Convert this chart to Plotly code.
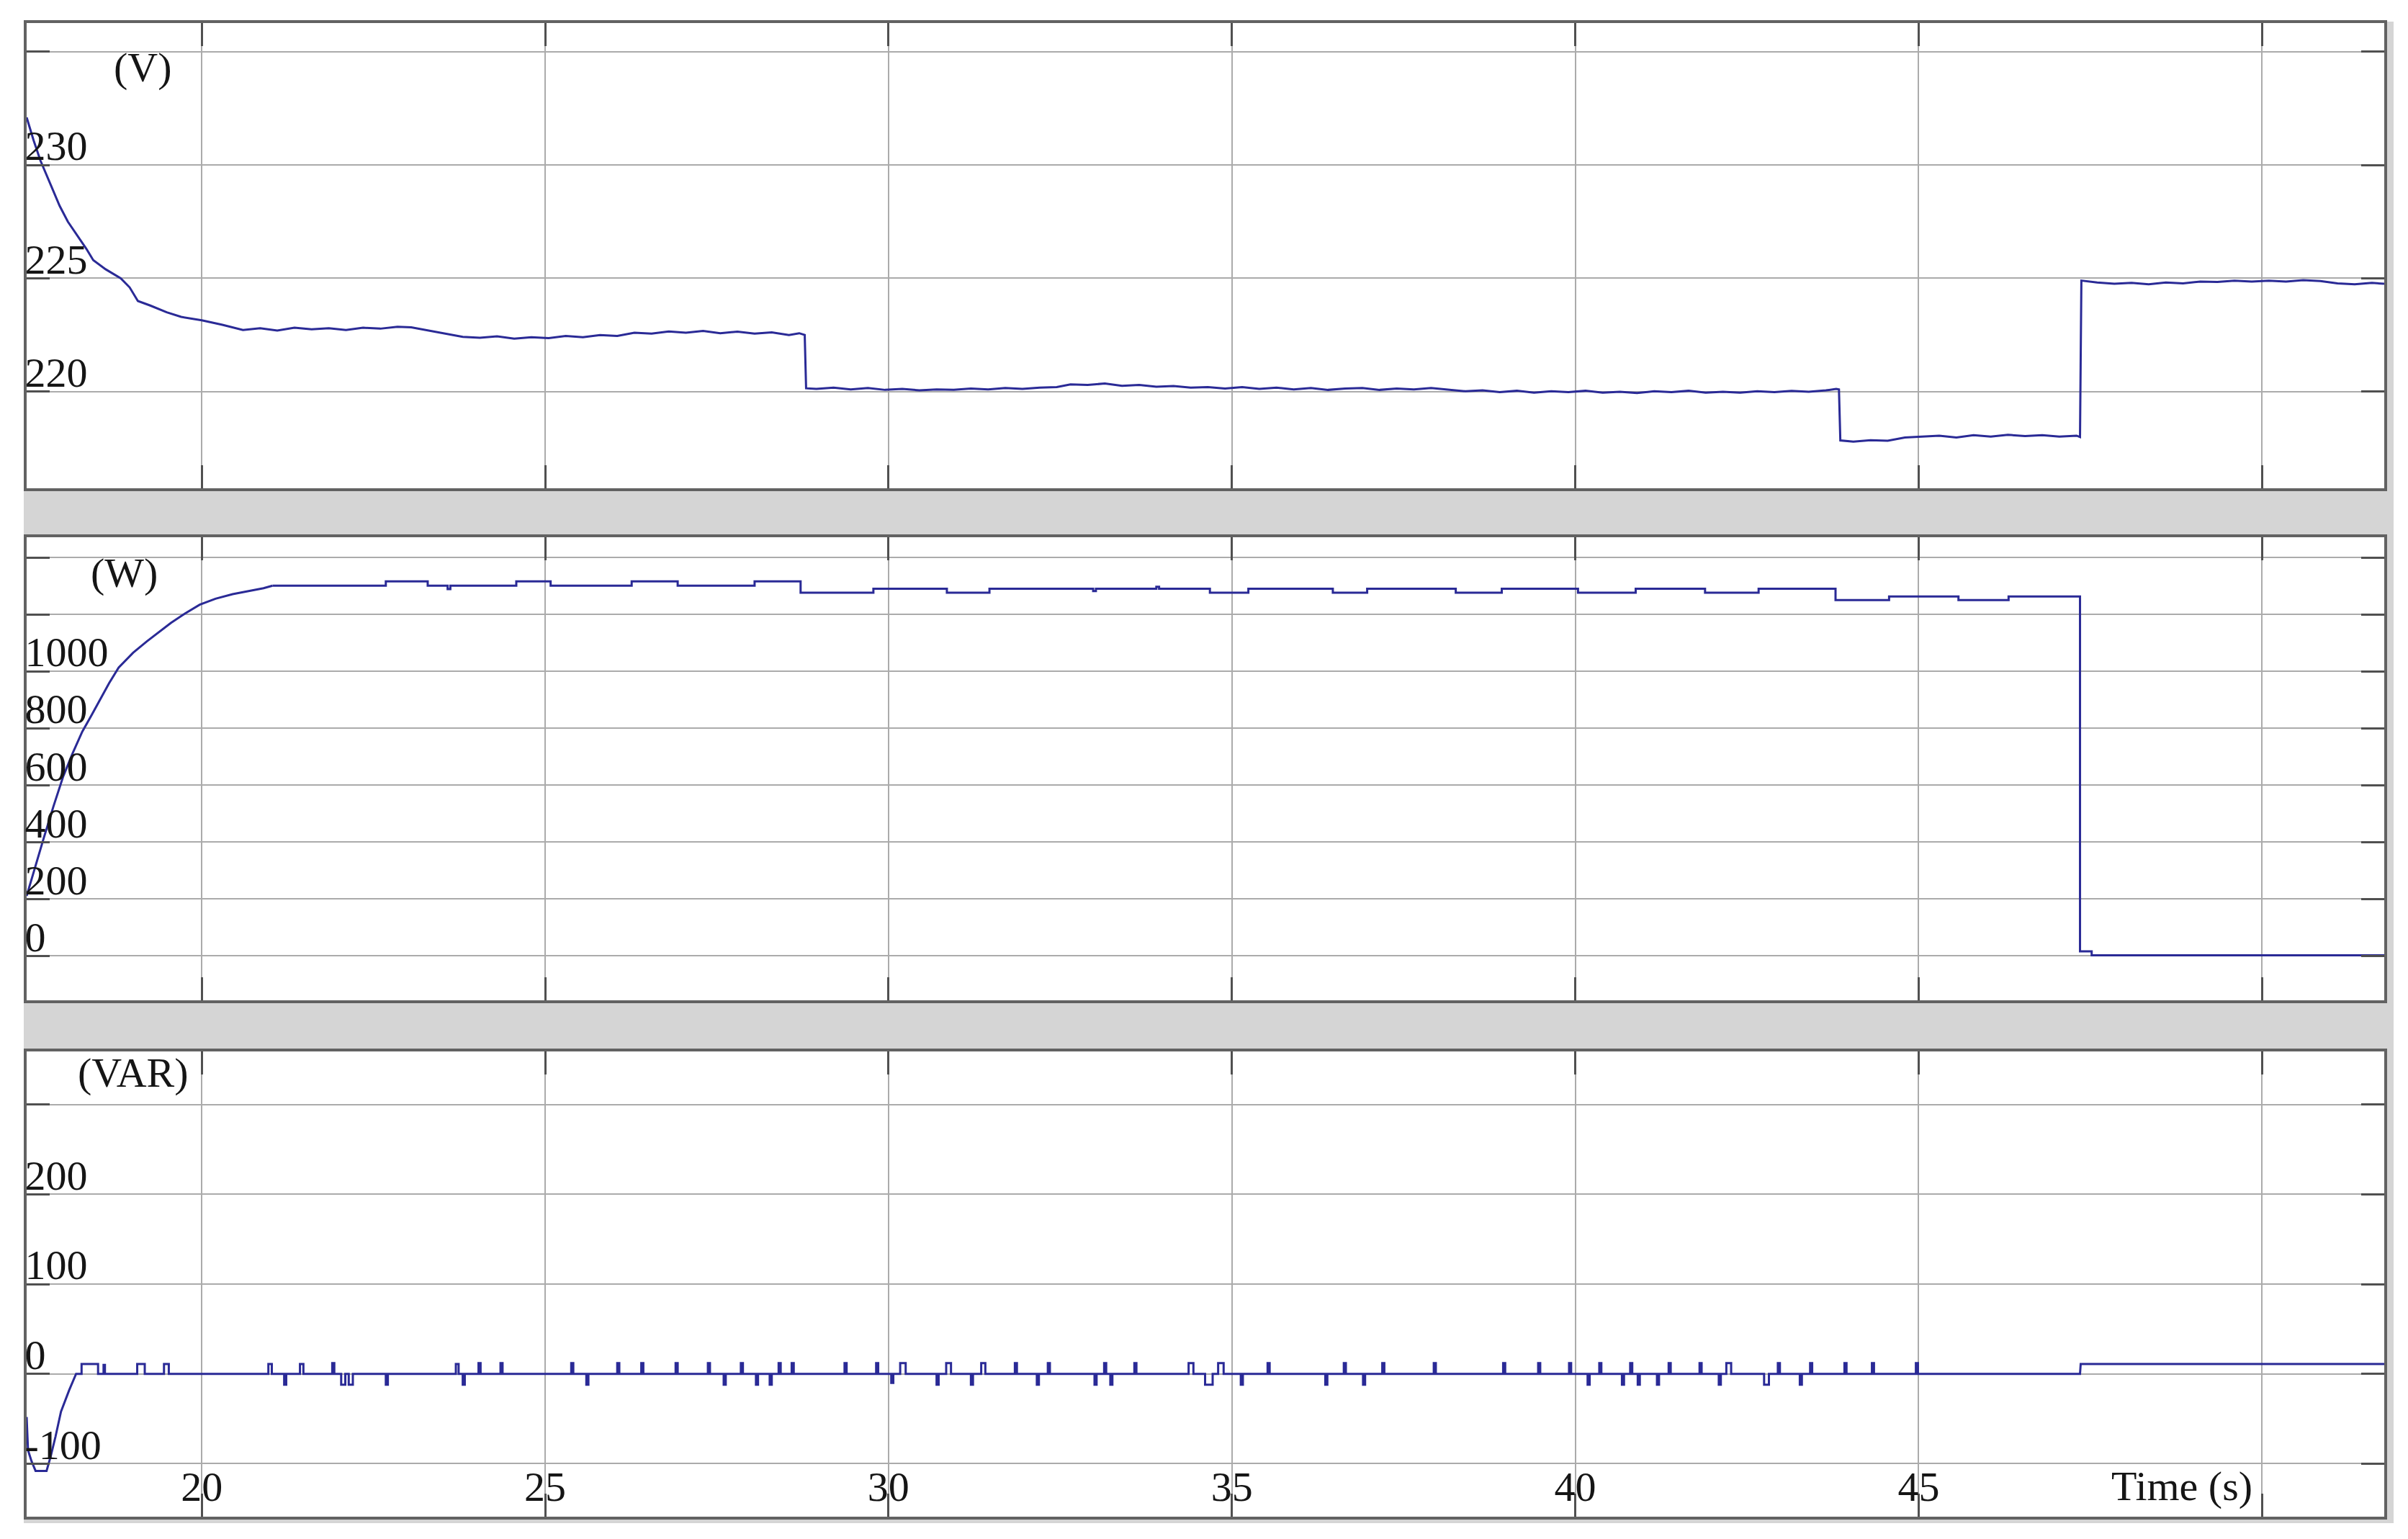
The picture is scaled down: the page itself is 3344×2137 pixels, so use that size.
"""
Grid voltage, active power and reactive power response.

Three stacked scope-style panels sharing the time axis.
"""

import plotly.graph_objs as go

# ---------------------------------------------------------------------------
# Data
# ---------------------------------------------------------------------------

# Voltage (V)
v_time = [
    17.45, 17.55, 17.65, 17.8, 17.93, 18.05, 18.21, 18.32, 18.42, 18.6,
    18.82, 18.95, 19.07, 19.25, 19.49, 19.7, 20.0, 20.3, 20.6, 20.85,
    21.1, 21.35, 21.6, 21.85, 22.1, 22.35, 22.6, 22.85, 23.05, 23.3,
    23.55, 23.8, 24.05, 24.3, 24.55, 24.8, 25.05, 25.3, 25.55, 25.8,
    26.05, 26.3, 26.55, 26.8, 27.05, 27.3, 27.55, 27.8, 28.05, 28.3,
    28.55, 28.7, 28.78, 28.8, 28.95, 29.2, 29.45, 29.7, 29.95, 30.2,
    30.45, 30.7, 30.95, 31.2, 31.45, 31.7, 31.95, 32.2, 32.45, 32.65,
    32.9, 33.15, 33.4, 33.65, 33.9, 34.15, 34.4, 34.65, 34.9, 35.15,
    35.4, 35.65, 35.9, 36.15, 36.4, 36.65, 36.9, 37.15, 37.4, 37.65,
    37.9, 38.15, 38.4, 38.65, 38.9, 39.15, 39.4, 39.65, 39.9, 40.15,
    40.4, 40.65, 40.9, 41.15, 41.4, 41.65, 41.9, 42.15, 42.4, 42.65,
    42.9, 43.15, 43.4, 43.65, 43.8, 43.84, 43.86, 44.05, 44.3, 44.55,
    44.8, 45.05, 45.3, 45.55, 45.8, 46.05, 46.3, 46.55, 46.8, 47.05,
    47.3, 47.35, 47.37, 47.6, 47.85, 48.1, 48.35, 48.6, 48.85, 49.1,
    49.35, 49.6, 49.85, 50.1, 50.35, 50.6, 50.85, 51.1, 51.35, 51.6,
    51.78,
]
v_volts = [
    232.1, 231.1, 230.2, 229.1, 228.2, 227.5, 226.8, 226.3, 225.8, 225.4,
    225.0, 224.6, 224.0, 223.8, 223.5, 223.3, 223.15, 222.95, 222.72, 222.8,
    222.7, 222.82, 222.75, 222.8, 222.72, 222.82, 222.78, 222.86, 222.84, 222.7,
    222.58, 222.42, 222.38, 222.44, 222.34, 222.4, 222.36, 222.46, 222.4, 222.5,
    222.46, 222.6, 222.56, 222.66, 222.6, 222.68, 222.58, 222.65, 222.56, 222.62,
    222.5, 222.58, 222.5, 220.15, 220.12, 220.18, 220.1, 220.16, 220.08, 220.12,
    220.06, 220.1, 220.08, 220.14, 220.1, 220.16, 220.12, 220.18, 220.2, 220.32,
    220.3, 220.36, 220.26, 220.3, 220.22, 220.25, 220.18, 220.2, 220.14, 220.2,
    220.12, 220.18, 220.1, 220.16, 220.08, 220.14, 220.16, 220.08, 220.14, 220.1,
    220.16, 220.08, 220.02, 220.06, 219.98, 220.04, 219.96, 220.02, 219.98, 220.04,
    219.96, 220.0, 219.94, 220.02, 219.98, 220.04, 219.96, 220.0, 219.96, 220.02,
    219.98, 220.04, 220.0, 220.06, 220.12, 220.1, 217.85, 217.8, 217.86, 217.84,
    217.98, 218.02, 218.06, 217.98, 218.08, 218.02, 218.1, 218.04, 218.08, 218.02,
    218.06, 218.0, 224.9, 224.82, 224.76, 224.8, 224.74, 224.82, 224.78, 224.86,
    224.84, 224.9, 224.86, 224.9, 224.86, 224.92, 224.88, 224.78, 224.74, 224.8,
    224.76,
]

# Active power (W): start-up ramp, then stepped levels
p_rise_time = [
    17.45, 17.58, 17.7, 17.84, 17.98, 18.12, 18.26, 18.4, 18.52, 18.65,
    18.79, 19.0, 19.2, 19.35, 19.55, 19.75, 19.97, 20.2, 20.45, 20.6,
    20.77, 20.9, 21.03,
]
p_rise_watts = [
    211, 320, 415, 525, 629, 712, 788, 848, 900, 958,
    1013, 1065, 1105, 1132, 1170, 1202, 1234, 1255, 1271, 1278,
    1285, 1292, 1301,
]
p_step_time = [
    21.03, 22.68, 23.29, 23.58, 23.62, 24.58, 25.08, 26.26, 26.93, 28.05,
    28.72, 29.78, 30.85, 31.47, 32.98, 33.02, 33.9, 33.94, 34.68, 35.24,
    36.47, 36.97, 38.26, 38.93, 40.04, 40.88, 41.89, 42.67, 43.79, 44.57,
    45.58, 46.31, 47.35, 47.52, 51.78,
]
p_step_watts = [
    1301, 1316, 1301, 1289, 1301, 1316, 1301, 1316, 1301, 1316,
    1276, 1290, 1276, 1290, 1282, 1290, 1297, 1290, 1276, 1290,
    1276, 1290, 1276, 1290, 1276, 1290, 1276, 1290, 1250, 1263,
    1250, 1263, 16, 2, 2,
]

# Reactive power (VAR): start-up dip, switching spikes, final step
q_start_time = [17.45, 17.47, 17.52, 17.58, 17.74, 17.8, 17.87, 17.95, 18.07, 18.17]
q_start_var = [-48, -85, -97, -108, -108, -92, -70, -42, -18, 0]
q_spike_time = [
    18.25, 18.57, 19.06, 19.45, 20.97, 21.2, 21.43, 21.9, 22.03, 22.14,
    22.68, 23.7, 23.8, 24.03, 24.35, 25.38, 25.6, 26.05, 26.4, 26.9,
    27.37, 27.6, 27.85, 28.07, 28.27, 28.4, 28.59, 29.36, 29.82, 30.04,
    30.17, 30.7, 30.84, 31.2, 31.35, 31.84, 32.16, 32.32, 33.0, 33.14,
    33.23, 33.58, 34.37, 34.61, 34.8, 35.13, 35.52, 36.36, 36.63, 36.91,
    37.19, 37.94, 38.95, 39.46, 39.91, 40.18, 40.35, 40.68, 40.8, 40.91,
    41.19, 41.36, 41.81, 42.09, 42.2, 42.75, 42.95, 43.27, 43.42, 43.92,
    44.32, 44.96,
]
q_spike_var = [
    11, 10, 11, 11, 11, -12, 11, 12, -12, -12,
    -12, 11, -12, 12, 12, 12, -12, 12, 12, 12,
    12, -12, 12, -12, -12, 12, 12, 12, 12, -10,
    12, -12, 12, -12, 12, 12, -12, 12, -12, 12,
    -12, 12, 12, -12, 12, -12, 12, -12, 12, -12,
    12, 12, 12, 12, 12, -12, 12, -12, 12, -12,
    -12, 12, 12, -12, 12, -12, 12, -12, 12, 12,
    12, 12,
]
q_spike_width = [
    0.24, 0.02, 0.11, 0.07, 0.05, 0.03, 0.05, 0.03, 0.06, 0.06,
    0.03, 0.04, 0.03, 0.03, 0.03, 0.03, 0.03, 0.03, 0.03, 0.03,
    0.03, 0.03, 0.03, 0.03, 0.03, 0.03, 0.03, 0.03, 0.03, 0.03,
    0.08, 0.03, 0.07, 0.03, 0.06, 0.03, 0.03, 0.03, 0.03, 0.03,
    0.03, 0.03, 0.07, 0.11, 0.08, 0.03, 0.03, 0.03, 0.03, 0.03,
    0.03, 0.03, 0.03, 0.03, 0.03, 0.03, 0.03, 0.03, 0.03, 0.03,
    0.03, 0.03, 0.03, 0.03, 0.07, 0.07, 0.03, 0.03, 0.03, 0.03,
    0.03, 0.03,
]
q_tail_time = [47.35, 47.36, 51.78]
q_tail_var = [0, 11, 11]

# Axis ticks and labels
time_range = [17.45, 51.78]
time_ticks = [20, 25, 30, 35, 40, 45, 50]
time_labels = ['20', '25', '30', '35', '40', '45', '']
v_range = [215.74, 236.26]
v_ticks = [220, 225, 230, 235]
v_labels = ['220', '225', '230', '']
p_range = [-156, 1471]
p_ticks = [0, 200, 400, 600, 800, 1000, 1200, 1400]
p_labels = ['0', '200', '400', '600', '800', '1000', '', '']
q_range = [-159, 359]
q_ticks = [-100, 0, 100, 200, 300]
q_labels = ['-100', '0', '100', '200', '']

# ---------------------------------------------------------------------------
# Styling
# ---------------------------------------------------------------------------
WIDTH, HEIGHT = 3344, 2137
M_L, M_R, M_T, M_B = 29, 41, 24, 39
PLOT_W = WIDTH - M_L - M_R
PLOT_H = HEIGHT - M_T - M_B
TRACE = '#2a2a96'
GRID = '#ababab'
TICK = '#505050'
FRAME = '#626262'
BAND = '#d5d5d5'
FONT = 'Liberation Serif'


def px_domain(top, bottom):
    """Turn panel pixel edges (from top of page) into a y domain."""
    base = HEIGHT - M_B
    return [(base - bottom) / PLOT_H, (base - top) / PLOT_H]


def paper_x(px):
    return (px - M_L) / PLOT_W


def paper_y(py):
    return (HEIGHT - M_B - py) / PLOT_H


def build_reactive_series():
    """Assemble the VAR trace from the start-up dip, spikes and final step."""
    t = list(q_start_time)
    q = list(q_start_var)
    for start, amp, width in zip(q_spike_time, q_spike_var, q_spike_width):
        t += [start, start, start + width, start + width]
        q += [0, amp, amp, 0]
    t += q_tail_time
    q += q_tail_var
    return t, q


def axis_style(**extra):
    base = dict(
        showgrid=True, gridcolor=GRID, gridwidth=2,
        ticks='inside', ticklen=32, tickwidth=3, tickcolor=TICK,
        showline=True, linecolor=FRAME, linewidth=4, mirror='allticks',
        zeroline=False, automargin=False,
        tickfont=dict(family=FONT, size=58, color='#151515'),
    )
    base.update(extra)
    return base


def y_axis(rng, ticks, labels, domain, anchor):
    return axis_style(
        range=rng, tickvals=ticks, ticktext=labels, domain=domain,
        anchor=anchor, ticklabelposition='inside',
        ticklabelshift=-27, ticklabelstandoff=-26,
    )


fig = go.Figure()

line = dict(color=TRACE, width=3)
fig.add_trace(go.Scatter(x=v_time, y=v_volts, mode='lines', line=line,
                         xaxis='x', yaxis='y'))
fig.add_trace(go.Scatter(x=p_rise_time, y=p_rise_watts, mode='lines',
                         line=line, xaxis='x2', yaxis='y2'))
fig.add_trace(go.Scatter(x=p_step_time, y=p_step_watts, mode='lines',
                         line=dict(color=TRACE, width=3, shape='hv'),
                         xaxis='x2', yaxis='y2'))
q_t, q_v = build_reactive_series()
fig.add_trace(go.Scatter(x=q_t, y=q_v, mode='lines', line=line,
                         xaxis='x3', yaxis='y3'))

dom1 = px_domain(24, 670)
dom2 = px_domain(738, 1381)
dom3 = px_domain(1452, 2098)

fig.update_layout(
    width=WIDTH, height=HEIGHT,
    margin=dict(l=M_L, r=M_R, t=M_T, b=M_B),
    paper_bgcolor=BAND, plot_bgcolor='white',
    showlegend=False,
    xaxis=axis_style(range=time_range, tickvals=time_ticks, anchor='y',
                     showticklabels=False),
    xaxis2=axis_style(range=time_range, tickvals=time_ticks, anchor='y2',
                      showticklabels=False),
    # labels sit inside the bottom panel: pulled up from the outside slot
    xaxis3=axis_style(range=time_range, tickvals=time_ticks,
                      ticktext=time_labels, anchor='y3',
                      ticklabelposition='outside', ticklabelstandoff=-96),
    yaxis=y_axis(v_range, v_ticks, v_labels, dom1, 'x'),
    yaxis2=y_axis(p_range, p_ticks, p_labels, dom2, 'x2'),
    yaxis3=y_axis(q_range, q_ticks, q_labels, dom3, 'x3'),
)

# White page margins around the grey scope frame
white = dict(type='rect', xref='paper', yref='paper', fillcolor='white',
             line=dict(width=0), layer='below')
fig.add_shape(x0=paper_x(-5), x1=paper_x(25), y0=paper_y(2150), y1=paper_y(-5), **white)
fig.add_shape(x0=paper_x(3316), x1=paper_x(3350), y0=paper_y(2150), y1=paper_y(-5), **white)
fig.add_shape(x0=paper_x(-5), x1=paper_x(3350), y0=paper_y(2150), y1=paper_y(2107), **white)
fig.add_shape(x0=paper_x(-5), x1=paper_x(3350), y0=paper_y(22), y1=paper_y(-5), **white)

label_font = dict(family=FONT, size=58, color='#151515')
fig.add_annotation(x=19.14, y=234.3, xref='x', yref='y', text='(V)',
                   showarrow=False, font=label_font)
fig.add_annotation(x=18.87, y=1346, xref='x2', yref='y2', text='(W)',
                   showarrow=False, font=label_font)
fig.add_annotation(x=19.0, y=335, xref='x3', yref='y3', text='(VAR)',
                   showarrow=False, font=label_font)
fig.add_annotation(x=49.88, y=-125, xref='x3', yref='y3', text='Time (s)',
                   xanchor='right', showarrow=False, font=label_font)

fig.write_html("out.html")
